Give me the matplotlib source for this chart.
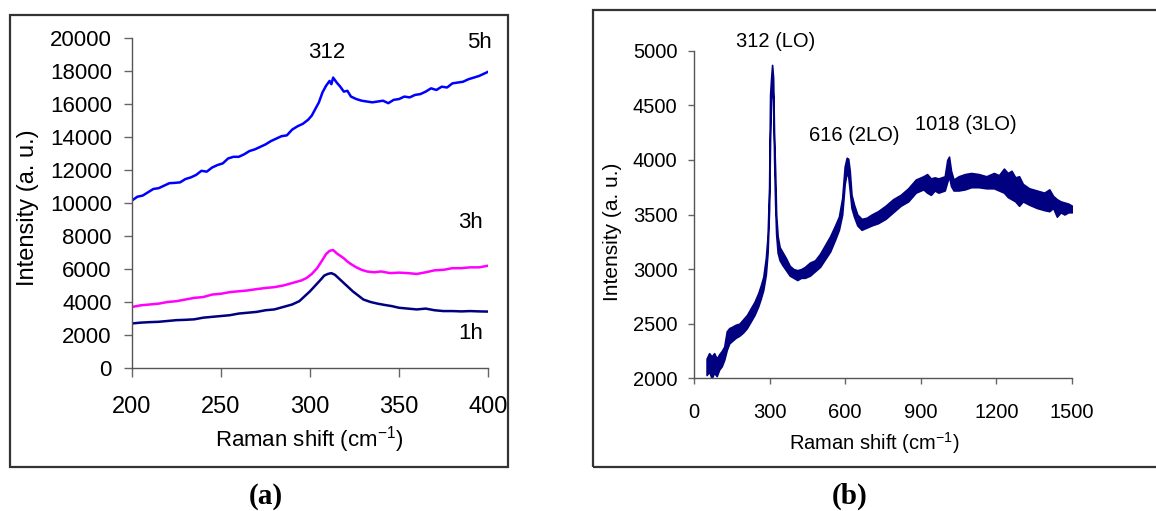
import matplotlib
matplotlib.use('Agg')
import matplotlib.pyplot as plt
from matplotlib.patches import Rectangle

plt.rcParams['font.family'] = ['Liberation Sans', 'DejaVu Sans']
plt.rcParams['mathtext.fontset'] = 'custom'
plt.rcParams['mathtext.rm'] = 'Liberation Sans'
plt.rcParams['mathtext.it'] = 'Liberation Sans:italic'

# ---- panel (a): Raman spectra after 1h / 3h / 5h ----
x_5h = [200, 203, 206, 209, 212, 215, 218, 221, 224, 227, 230, 233, 236, 239, 242,
        245, 248, 251, 254, 257, 260, 263, 266, 269, 272, 275, 278, 281, 284, 287,
        290, 293, 296, 299, 301, 303, 305, 307, 309, 311, 312, 313, 315, 317, 319,
        321, 323, 326, 329, 332, 335, 338, 341, 344, 347, 350, 353, 356, 359, 362,
        365, 368, 371, 374, 377, 380, 383, 386, 389, 392, 395, 398, 400]
y_5h = [10150, 10380, 10450, 10650, 10850, 10900, 11050, 11200, 11220, 11250, 11450,
        11550, 11700, 11950, 11900, 12150, 12300, 12400, 12700, 12800, 12800, 12950,
        13150, 13250, 13400, 13550, 13750, 13900, 14050, 14100, 14450, 14650, 14800,
        15050, 15300, 15700, 16100, 16700, 17100, 17400, 17200, 17600, 17300, 17050,
        16750, 16800, 16450, 16300, 16200, 16150, 16100, 16150, 16200, 16050, 16250,
        16300, 16450, 16400, 16550, 16600, 16750, 16950, 16850, 17050, 17000, 17250,
        17300, 17350, 17500, 17600, 17700, 17850, 17950]

x_3h = [200, 205, 210, 215, 220, 225, 230, 235, 240, 245, 250, 255, 260, 265, 270,
        275, 280, 285, 290, 295, 298, 301, 304, 307, 309, 311, 313, 315, 317, 319,
        321, 323, 326, 329, 332, 336, 340, 345, 350, 355, 360, 365, 370, 375, 380,
        385, 390, 395, 400]
y_3h = [3700, 3800, 3850, 3900, 4000, 4050, 4150, 4250, 4300, 4450, 4500, 4600, 4650,
        4700, 4780, 4850, 4900, 5000, 5150, 5300, 5450, 5700, 6050, 6550, 6900, 7100,
        7150, 6950, 6800, 6650, 6450, 6300, 6100, 5950, 5850, 5800, 5850, 5750, 5780,
        5750, 5700, 5800, 5920, 5950, 6050, 6050, 6100, 6100, 6200]

x_1h = [200, 205, 210, 215, 220, 225, 230, 235, 240, 245, 250, 255, 260, 265, 270,
        275, 280, 285, 290, 294, 297, 300, 303, 306, 308, 310, 312, 314, 316, 318,
        320, 322, 324, 327, 330, 334, 338, 342, 346, 350, 355, 360, 365, 370, 375,
        380, 385, 390, 395, 400]
y_1h = [2700, 2750, 2780, 2800, 2850, 2900, 2920, 2950, 3050, 3100, 3150, 3200, 3300,
        3350, 3400, 3500, 3550, 3700, 3850, 4050, 4350, 4650, 5000, 5350, 5600, 5700,
        5750, 5650, 5450, 5250, 5050, 4850, 4650, 4400, 4150, 4000, 3900, 3820, 3750,
        3650, 3600, 3550, 3600, 3500, 3450, 3450, 3430, 3450, 3430, 3420]

# ---- panel (b): wide-range spectrum, noisy band read as lower/upper envelope ----
x_b = [50, 60, 70, 80, 90, 100, 110, 120, 130, 140, 150, 165, 180, 195, 210, 225,
       240, 255, 265, 275, 285, 292, 298, 302, 306, 310, 314, 318, 322, 326, 332,
       340, 350, 365, 380, 395, 410, 425, 440, 460, 480, 500, 520, 540, 560, 575,
       588, 598, 606, 612, 618, 625, 635, 648, 665, 685, 705, 730, 760, 790, 820,
       850, 880, 910, 925, 940, 955, 970, 995, 1005, 1012, 1020, 1030, 1050, 1075,
       1100, 1130, 1160, 1190, 1210, 1230, 1245, 1260, 1275, 1290, 1305, 1330, 1360,
       1390, 1410, 1425, 1440, 1455, 1470, 1485, 1500]
lo_b = [2030, 2060, 2000, 2050, 2020, 2080, 2110, 2170, 2260, 2320, 2340, 2370, 2390,
        2420, 2460, 2520, 2580, 2660, 2730, 2810, 2950, 3150, 3550, 4200, 4550, 4700,
        4550, 4000, 3600, 3320, 3150, 3080, 3040, 2990, 2940, 2920, 2900, 2920, 2920,
        2940, 2980, 3020, 3090, 3160, 3270, 3360, 3500, 3780, 3880, 3850, 3720, 3560,
        3480, 3400, 3360, 3380, 3400, 3420, 3460, 3520, 3580, 3620, 3700, 3730, 3700,
        3680, 3720, 3700, 3720, 3800, 3850, 3760, 3720, 3720, 3730, 3750, 3750, 3740,
        3740, 3720, 3700, 3660, 3640, 3620, 3580, 3620, 3590, 3560, 3540, 3530, 3560,
        3480, 3520, 3500, 3520, 3520]
hi_b = [2180, 2230, 2200, 2230, 2180, 2220, 2250, 2290, 2430, 2460, 2470, 2490, 2500,
        2540, 2580, 2640, 2700, 2780, 2850, 2930, 3100, 3300, 3750, 4600, 4750, 4870,
        4750, 4200, 3900, 3500, 3300, 3200, 3160, 3100, 3030, 3000, 2990, 3000, 3020,
        3060, 3080, 3140, 3220, 3300, 3400, 3480, 3650, 3940, 4020, 4010, 3900, 3680,
        3590, 3500, 3460, 3470, 3500, 3530, 3580, 3640, 3680, 3740, 3820, 3850, 3870,
        3830, 3840, 3830, 3850, 4000, 4030, 3900, 3820, 3850, 3870, 3880, 3870, 3850,
        3880, 3860, 3920, 3880, 3900, 3840, 3850, 3780, 3740, 3720, 3700, 3730, 3670,
        3640, 3620, 3610, 3600, 3580]

W, H = 1156, 511
fig = plt.figure(figsize=(W / 100, H / 100), dpi=100)
fig.patch.set_facecolor('white')


def px(x, y):
    return x / W, 1 - y / H


def style_axis(ax, tick_len_y, tick_len_x, fs, padx, pady):
    for s in ('top', 'right'):
        ax.spines[s].set_visible(False)
    for s in ('left', 'bottom'):
        ax.spines[s].set_color('#555555')
        ax.spines[s].set_linewidth(1.0)
    ax.tick_params(axis='y', direction='out', length=tick_len_y, width=1.0,
                   color='#666666', labelsize=fs, pad=pady)
    ax.tick_params(axis='x', direction='out', length=tick_len_x, width=1.0,
                   color='#666666', labelsize=fs, pad=padx)
    ax.set_facecolor('none')


# panel frames
fig.add_artist(Rectangle(px(10, 467), 498 / W, 452 / H, transform=fig.transFigure,
                         fill=False, edgecolor='#333333', lw=1.6))
fig.add_artist(Rectangle(px(593, 467), 600 / W, 457 / H, transform=fig.transFigure,
                         fill=False, edgecolor='#333333', lw=1.6, clip_on=False))

# ===== (a) =====
axa = fig.add_axes([132 / W, (H - 368) / H, 356 / W, 330 / H])
axa.plot(x_1h, y_1h, color='#000080', lw=1.8)
axa.plot(x_3h, y_3h, color='#FF00FF', lw=1.8)
axa.plot(x_5h, y_5h, color='#0000FF', lw=1.8)
axa.set_xlim(200, 400)
axa.set_ylim(0, 20000)
axa.set_xticks(range(200, 401, 50))
axa.set_yticks(range(0, 20001, 2000))
style_axis(axa, 6, 6.5, 16, 14, 8.5)
for lab in axa.get_xticklabels():
    lab.set_fontsize(17)

axa.text(309.5, 19100, '312', ha='center', va='center', fontsize=16)
axa.text(395, 19700, '5h', ha='center', va='center', fontsize=16, clip_on=False)
axa.text(390, 8800, '3h', ha='center', va='center', fontsize=16)
axa.text(390, 2100, '1h', ha='center', va='center', fontsize=16)

fig.text(*px(28, 208), 'Intensity (a. u.)', rotation=90, ha='center', va='center',
         fontsize=17)
fig.text(*px(309, 440), 'Raman shift (cm$^{-1}$)', ha='center', va='center',
         fontsize=16)

# ===== (b) =====
axb = fig.add_axes([694 / W, (H - 378.3) / H, 378 / W, 327.6 / H])
axb.fill_between(x_b, lo_b, hi_b, facecolor='#000080', edgecolor='#000080', lw=1.2)
axb.set_xlim(0, 1500)
axb.set_ylim(2000, 5000)
axb.set_xticks(range(0, 1501, 300))
axb.set_yticks(range(2000, 5001, 500))
style_axis(axb, 4.5, 4.5, 14.5, 13, 7.5)

axb.text(325, 5080, '312 (LO)', ha='center', va='center', fontsize=14.5,
         clip_on=False)
axb.text(634, 4228, '616 (2LO)', ha='center', va='center', fontsize=14.5)
axb.text(1079, 4320, '1018 (3LO)', ha='center', va='center', fontsize=14.5)

fig.text(*px(612, 232), 'Intensity (a. u.)', rotation=90, ha='center', va='center',
         fontsize=15)
fig.text(*px(874, 443), 'Raman shift (cm$^{-1}$)', ha='center', va='center',
         fontsize=14.5)

# panel letters
fig.text(*px(266, 496), '(a)', ha='center', va='center', fontsize=21,
         fontweight='bold', family='Liberation Serif')
fig.text(*px(850, 496), '(b)', ha='center', va='center', fontsize=21,
         fontweight='bold', family='Liberation Serif')

fig.savefig('out.png', dpi=100, facecolor='white')
